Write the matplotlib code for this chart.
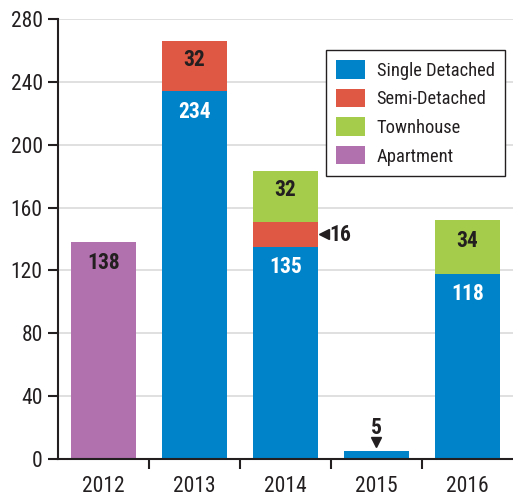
import matplotlib.pyplot as plt
import numpy as np

plt.rcParams['font.family'] = ['Roboto Condensed', 'Lato', 'DejaVu Sans']

years = ['2012', '2013', '2014', '2015', '2016']
single = [0, 234, 135, 5, 118]
semi = [0, 32, 16, 0, 0]
town = [0, 0, 32, 0, 34]
apart = [138, 0, 0, 0, 0]

c_single = '#0083c9'
c_semi = '#de5843'
c_town = '#a5cd4b'
c_apart = '#b170ae'
dark = '#231f20'

fig = plt.figure(figsize=(5.13, 4.96), dpi=100)
ax = fig.add_axes([0.113, 0.0746, 0.887, 0.8871])

x = np.arange(len(years))
w = 0.72
b1 = np.array(single)
b2 = b1 + np.array(semi)
b3 = b2 + np.array(town)
ax.bar(x, single, w, color=c_single, label='Single Detached', zorder=2)
ax.bar(x, semi, w, bottom=b1, color=c_semi, label='Semi-Detached', zorder=2)
ax.bar(x, town, w, bottom=b2, color=c_town, label='Townhouse', zorder=2)
ax.bar(x, apart, w, bottom=b3, color=c_apart, label='Apartment', zorder=2)

fs_val = 15.5
lab = dict(ha='center', va='center', fontsize=fs_val, fontweight='bold')
# values near top of the bar
ax.text(0, apart[0] - 13, str(apart[0]), color=dark, **lab)
ax.text(1, single[1] - 13, str(single[1]), color='white', **lab)
ax.text(2, single[2] - 13, str(single[2]), color='white', **lab)
ax.text(4, single[4] - 13, str(single[4]), color='white', **lab)
# top segments
ax.text(1, b1[1] + semi[1] / 2 + 4, str(semi[1]), color=dark, **lab)
ax.text(2, b2[2] + town[2] / 2 + 4, str(town[2]), color=dark, **lab)
ax.text(4, b2[4] + town[4] / 2 + 4, str(town[4]), color=dark, **lab)

# callouts for small segments
ax.plot(2 + w / 2 + 0.06, b1[2] + semi[2] / 2, marker='<', color=dark, ms=6.5, zorder=3)
ax.text(2 + w / 2 + 0.12, b1[2] + semi[2] / 2 - 0.5, str(semi[2]), ha='left', va='center',
        fontsize=fs_val, fontweight='bold', color=dark)
ax.plot(3, single[3] + 6, marker='v', color=dark, ms=7.5, zorder=3)
ax.text(3, single[3] + 14.5, str(single[3]), ha='center', va='center',
        fontsize=fs_val, fontweight='bold', color=dark)

ax.set_xlim(-0.5, 4.5)
ax.set_ylim(0, 280)
ax.set_yticks(np.arange(0, 281, 40))
ax.set_xticks(x)
ax.set_xticklabels(years)
ax.set_xticks(x[:-1] + 0.5, minor=True)
ax.tick_params(axis='x', which='major', length=0, labelsize=15.5, pad=12, colors=dark)
ax.tick_params(axis='x', which='minor', length=7, width=1.5, color=dark, direction='out')
ax.tick_params(axis='y', length=7, width=1.5, pad=4, labelsize=15.5, color=dark, labelcolor=dark)
ax.yaxis.grid(True, color='#dddddd', lw=1.3, zorder=0)
ax.set_axisbelow(True)
for s in ['top', 'right']:
    ax.spines[s].set_visible(False)
for s in ['left', 'bottom']:
    ax.spines[s].set_linewidth(1.5)
    ax.spines[s].set_color(dark)

leg = ax.legend(loc='upper right', bbox_to_anchor=(0.982, 0.9295), borderaxespad=0,
                fontsize=13.3, frameon=True, fancybox=False, edgecolor=dark, framealpha=1,
                handlelength=1.55, handleheight=1.15, handletextpad=0.65,
                labelspacing=0.5, borderpad=0.55)
leg.get_frame().set_linewidth(1.0)
for t in leg.get_texts():
    t.set_color(dark)

fig.savefig('out.png', dpi=100)
